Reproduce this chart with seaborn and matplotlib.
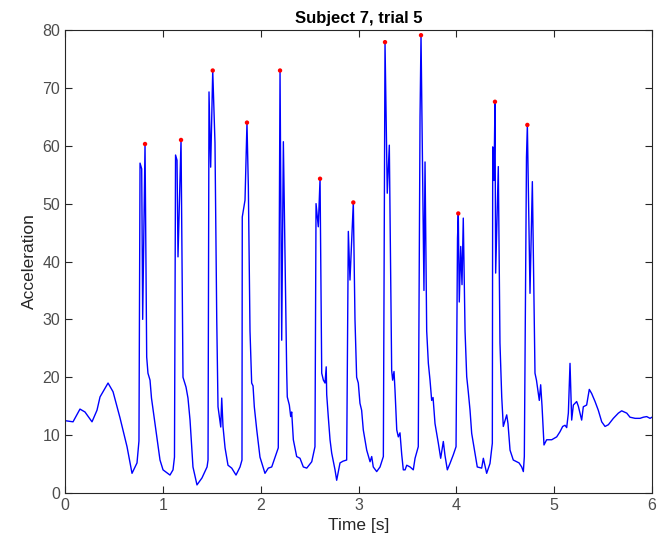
import matplotlib
matplotlib.use("Agg")
import matplotlib.pyplot as plt
import seaborn as sns
import pandas as pd

# ---- data ----
time_s = [
    0.000, 0.082, 0.153, 0.204, 0.276, 0.327, 0.358, 0.440, 0.491, 0.562, 0.634, 0.685, 0.736, 0.756,
    0.767, 0.784, 0.794, 0.818, 0.835, 0.848, 0.869, 0.884, 0.971, 1.002, 1.073, 1.104, 1.119,
    1.130, 1.145, 1.155, 1.186, 1.206, 1.237, 1.257, 1.278, 1.308, 1.349, 1.400, 1.452, 1.462,
    1.472, 1.489, 1.510, 1.533, 1.551, 1.564, 1.592, 1.602, 1.615, 1.636, 1.666, 1.704, 1.748, 1.789, 1.809,
    1.812, 1.840, 1.860, 1.874, 1.891, 1.908, 1.922, 1.935, 1.960, 1.993, 2.044, 2.078, 2.113, 2.147, 2.180,
    2.198, 2.215, 2.232, 2.266, 2.272, 2.293, 2.307, 2.317, 2.334, 2.368, 2.402, 2.436, 2.471, 2.522, 2.555,
    2.566, 2.579, 2.589, 2.607, 2.624, 2.641, 2.658, 2.670, 2.675, 2.691, 2.709, 2.726, 2.760, 2.777, 2.811, 2.842, 2.879,
    2.896, 2.913, 2.931, 2.947, 2.964, 2.981, 2.998, 3.015, 3.032, 3.049, 3.084, 3.118, 3.135, 3.151, 3.186, 3.220, 3.254,
    3.266, 3.271, 3.294, 3.315, 3.339, 3.349, 3.363, 3.373, 3.391, 3.407, 3.424, 3.442, 3.458, 3.476, 3.493, 3.527, 3.560, 3.578, 3.611,
    3.629, 3.639, 3.669, 3.680, 3.697, 3.714, 3.731, 3.748, 3.762, 3.782, 3.816, 3.840, 3.867, 3.884, 3.908, 3.935, 3.969, 3.997,
    4.012, 4.020, 4.030, 4.045, 4.058, 4.071, 4.089, 4.106, 4.122, 4.140, 4.157, 4.191, 4.214, 4.259, 4.276, 4.310, 4.344, 4.368,
    4.372, 4.385, 4.395, 4.402, 4.429, 4.446, 4.464, 4.480, 4.515, 4.528, 4.549, 4.582, 4.617, 4.641, 4.668, 4.685, 4.695,
    4.717, 4.726, 4.753, 4.777, 4.804, 4.819, 4.848, 4.862, 4.876, 4.896, 4.923, 4.975, 5.026, 5.060, 5.087, 5.111, 5.128,
    5.145, 5.162, 5.179, 5.196, 5.230, 5.247, 5.281, 5.298, 5.332, 5.359, 5.383, 5.418, 5.451, 5.486, 5.520, 5.554,
    5.605, 5.656, 5.690, 5.742, 5.775, 5.827, 5.878, 5.912, 5.946, 5.980, 6.000,
]
acceleration = [
    12.5, 12.3, 14.5, 14.0, 12.3, 14.3, 16.6, 19.0, 17.5, 13.0, 8.0, 3.4, 5.2, 9.0,
    57.0, 56.0, 30.0, 60.3, 23.5, 20.7, 19.5, 16.4, 5.7, 4.0, 3.1, 4.0, 6.2,
    58.4, 57.5, 40.8, 61.0, 20.0, 18.3, 16.4, 12.6, 4.5, 1.4, 2.6, 4.5, 5.7,
    69.3, 56.3, 73.0, 60.5, 30.0, 14.9, 11.4, 16.4, 11.5, 7.8, 4.8, 4.3, 3.1, 4.5, 5.7,
    47.7, 50.6, 64.0, 53.0, 28.0, 19.0, 18.5, 14.9, 10.9, 6.2, 3.4, 4.3, 4.5, 6.2, 7.8,
    73.0, 26.4, 60.7, 21.0, 16.6, 15.2, 13.2, 14.0, 9.2, 6.3, 6.0, 4.5, 4.3, 5.4, 8.0,
    50.0, 47.7, 46.0, 54.3, 20.7, 19.5, 19.0, 21.8, 17.0, 13.2, 9.2, 6.9, 4.0, 2.2, 5.2, 5.5, 5.7,
    45.2, 36.8, 44.0, 50.2, 30.0, 20.0, 19.0, 15.5, 14.3, 10.9, 7.4, 5.4, 6.3, 4.5, 3.7, 4.5, 6.3,
    60.0, 77.9, 51.8, 60.1, 21.2, 19.5, 21.0, 17.8, 10.9, 9.7, 10.4, 6.6, 4.0, 4.0, 4.8, 4.5, 4.0, 6.0, 8.0,
    65.0, 79.1, 35.0, 57.2, 28.0, 22.4, 19.5, 16.0, 16.5, 12.0, 8.6, 6.0, 8.9, 6.5, 4.0, 5.1, 6.6, 8.0,
    44.0, 48.3, 33.0, 42.6, 36.0, 47.5, 28.0, 20.1, 17.5, 14.3, 10.3, 6.9, 4.5, 4.3, 6.0, 3.4, 5.1, 8.6,
    59.8, 54.0, 67.6, 38.0, 56.4, 25.9, 16.6, 11.5, 13.5, 12.0, 7.4, 5.7, 5.4, 5.2, 4.5, 3.7, 6.3,
    58.0, 63.6, 34.5, 53.8, 20.7, 19.5, 16.0, 18.7, 15.0, 8.3, 9.2, 9.2, 9.7, 10.6, 11.5, 11.7, 11.3,
    13.8, 22.4, 12.6, 15.2, 15.8, 15.0, 12.6, 14.9, 15.2, 17.9, 17.2, 15.8, 14.3, 12.3, 11.5, 11.8,
    12.9, 13.8, 14.2, 13.8, 13.1, 12.9, 12.9, 13.1, 13.2, 12.9, 13.1,
]
peak_time = [0.818, 1.186, 1.510, 1.860, 2.198, 2.607, 2.947, 3.271, 3.639, 4.020, 4.395, 4.726]
peak_value = [60.3, 61.0, 73.0, 64.0, 73.0, 54.3, 50.2, 77.9, 79.1, 48.3, 67.6, 63.6]
x_ticks = [0, 1, 2, 3, 4, 5, 6]
y_ticks = [0, 10, 20, 30, 40, 50, 60, 70, 80]

sig = pd.DataFrame({"t": time_s, "a": acceleration})
pk = pd.DataFrame({"t": peak_time, "a": peak_value})

sns.set_style("white")
plt.rcParams["font.family"] = ["Liberation Sans", "DejaVu Sans"]

fig = plt.figure(figsize=(6.57, 5.56), dpi=100)
ax = fig.add_axes([65 / 657, 63 / 556, 587 / 657, 463 / 556])

sns.lineplot(data=sig, x="t", y="a", ax=ax, color="#0000ff", linewidth=1.0,
             sort=False, estimator=None)
sns.scatterplot(data=pk, x="t", y="a", ax=ax, color="#ff0000", s=10,
                edgecolor="none", zorder=3)

ax.set_xlim(0, 6)
ax.set_ylim(0, 80)
ax.set_xticks(x_ticks)
ax.set_yticks(y_ticks)
ax.set_xlabel("Time [s]", fontsize=12.5, color="#262626")
ax.set_ylabel("Acceleration", fontsize=12.5, color="#262626")
ax.set_title("Subject 7, trial 5", fontsize=12, fontweight="bold", color="black", pad=5)

for s in ax.spines.values():
    s.set_visible(True)
    s.set_color("#262626")
    s.set_linewidth(0.8)
ax.tick_params(direction="in", length=5, width=0.8, colors="#262626",
               labelcolor="#4d4d4d", labelsize=11.5, top=True, right=True,
               bottom=True, left=True)
ax.grid(False)

fig.savefig("out.png", dpi=100, facecolor="white")
